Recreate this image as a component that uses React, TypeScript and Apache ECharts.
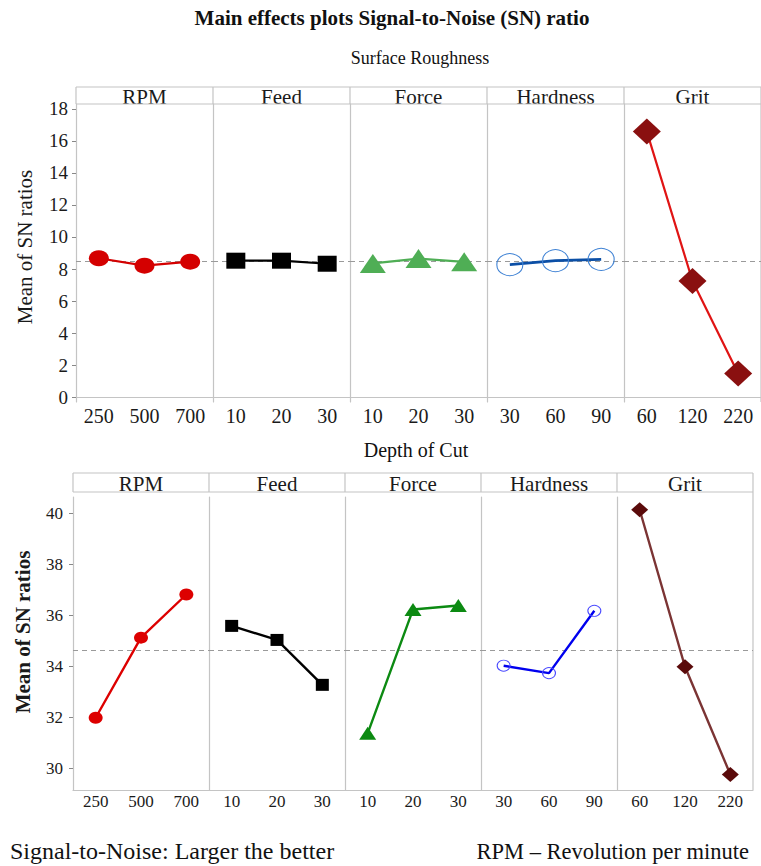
import React, { useEffect, useRef } from 'react';
import * as echarts from 'echarts';

// ---------- data ----------
const factors = ['RPM', 'Feed', 'Force', 'Hardness', 'Grit'];
const levelsRPM = ['250', '500', '700'];
const levelsFeed = ['10', '20', '30'];
const levelsForce = ['10', '20', '30'];
const levelsHardness = ['30', '60', '90'];
const levelsGrit = ['60', '120', '220'];

// Surface Roughness: mean of SN ratios
const roughRPM = [8.67, 8.21, 8.46];
const roughFeed = [8.52, 8.52, 8.33];
const roughForce = [8.35, 8.65, 8.45];
const roughHardness = [8.27, 8.52, 8.6];
const roughGrit = [16.58, 7.25, 1.48];

// Depth of Cut: mean of SN ratios
const depthRPM = [31.98, 35.12, 36.81];
const depthFeed = [35.58, 35.03, 33.27];
const depthForce = [31.37, 36.22, 36.38];
const depthHardness = [34.02, 33.73, 36.17];
const depthGrit = [40.13, 33.98, 29.76];

const roughTicks = [0, 2, 4, 6, 8, 10, 12, 14, 16, 18];
const depthTicks = [30, 32, 34, 36, 38, 40];

const levels = [levelsRPM, levelsFeed, levelsForce, levelsHardness, levelsGrit];
const roughData = [roughRPM, roughFeed, roughForce, roughHardness, roughGrit];
const depthData = [depthRPM, depthFeed, depthForce, depthHardness, depthGrit];

// ---------- styles / layout ----------
const FONT = '"Liberation Serif", "Times New Roman", serif';
const GRID_GRAY = '#c4c4c4';

const panels = [
  {
    data: roughData,
    ticks: roughTicks,
    yMin: -0.3,
    yMax: 18.3,
    left: 76,
    panelW: 137,
    top: 104,
    height: 298,
    headerTop: 87,
    headerBottom: 104,
    headerFont: 21,
    tickFont: 19,
    tickMargin: 8,
    xFont: 20,
    xMargin: 4,
    yName: 'Mean of SN ratios',
    yNameBold: false,
    yNameX: 25,
    yNameY: 247,
    yNameFont: 21,
    styles: [
      { symbol: 'circle', size: [20, 16], fill: '#d40000', border: '#d40000', line: '#d40000', lw: 2.2 },
      { symbol: 'rect', size: [19, 16], fill: '#000000', border: '#000000', line: '#000000', lw: 2.2 },
      { symbol: 'triangle', size: [26, 19], fill: '#4fae55', border: '#4fae55', line: '#4fae55', lw: 2.2 },
      { symbol: 'circle', size: [26, 22], fill: 'transparent', border: '#3f82d4', line: '#0b4fa6', lw: 2.8, bw: 1 },
      { symbol: 'diamond', size: [28, 26], fill: '#8a1010', border: '#8a1010', line: '#e01414', lw: 2.2 },
    ],
  },
  {
    data: depthData,
    ticks: depthTicks,
    yMin: 29.15,
    yMax: 40.63,
    left: 73,
    panelW: 136,
    top: 497,
    height: 293,
    headerTop: 473,
    headerBottom: 492,
    headerFont: 21,
    tickFont: 17,
    tickMargin: 10,
    xFont: 17,
    xMargin: 3,
    yName: 'Mean of SN ratios',
    yNameBold: true,
    yNameX: 22.5,
    yNameY: 632,
    yNameFont: 21,
    styles: [
      { symbol: 'circle', size: [14, 12], fill: '#dd0000', border: '#dd0000', line: '#dd0000', lw: 2.4 },
      { symbol: 'rect', size: [13, 12], fill: '#000000', border: '#000000', line: '#000000', lw: 2.4 },
      { symbol: 'triangle', size: [17, 13], fill: '#0c8a12', border: '#0c8a12', line: '#0c8a12', lw: 2.4 },
      { symbol: 'circle', size: [13, 11], fill: 'transparent', border: '#4a4aff', line: '#0000ee', lw: 2.4, bw: 1 },
      { symbol: 'diamond', size: [17, 15], fill: '#5a0a0a', border: '#5a0a0a', line: '#7b3434', lw: 2.4 },
    ],
  },
];

function grandMean(data: number[][]): number {
  let s = 0;
  let n = 0;
  data.forEach((arr) => arr.forEach((v) => { s += v; n += 1; }));
  return s / n;
}

function buildOption() {
  const grid: any[] = [];
  const xAxis: any[] = [];
  const yAxis: any[] = [];
  const series: any[] = [];
  const graphic: any[] = [];

  panels.forEach((p, pi) => {
    const mean = grandMean(p.data);
    factors.forEach((f, i) => {
      const idx = pi * 5 + i;
      const gl = p.left + p.panelW * i;
      grid.push({ left: gl, top: p.top, width: p.panelW, height: p.height });
      xAxis.push({
        type: 'category',
        gridIndex: idx,
        data: levels[i],
        boundaryGap: true,
        axisLine: { show: true, lineStyle: { color: GRID_GRAY, width: 1.2 } },
        axisTick: { show: false },
        axisLabel: { fontFamily: FONT, fontSize: p.xFont, color: '#1a1a1a', margin: p.xMargin },
        splitLine: { show: false },
      });
      const first = i === 0;
      yAxis.push({
        type: 'value',
        gridIndex: idx,
        min: p.yMin,
        max: p.yMax,
        axisLine: { show: true, lineStyle: { color: GRID_GRAY, width: 1.2 } },
        axisTick: first
          ? { show: true, length: 4, lineStyle: { color: '#888' }, customValues: p.ticks }
          : { show: false },
        axisLabel: first
          ? { show: true, fontFamily: FONT, fontSize: p.tickFont, color: '#1a1a1a', margin: p.tickMargin, customValues: p.ticks }
          : { show: false },
        splitLine: { show: false },
      });
      const st: any = p.styles[i];
      series.push({
        type: 'line',
        xAxisIndex: idx,
        yAxisIndex: idx,
        data: p.data[i],
        symbol: st.symbol,
        symbolSize: st.size,
        showAllSymbol: true,
        lineStyle: { color: st.line, width: st.lw },
        itemStyle: { color: st.fill, borderColor: st.border, borderWidth: st.bw ?? 0, opacity: 1 },
        z: 3,
        markLine: {
          silent: true,
          symbol: 'none',
          label: { show: false },
          lineStyle: { color: '#9a9a9a', type: [5, 4], width: 1 },
          data: [{ yAxis: mean }],
          z: 1,
        },
      });

      // header strip: vertical separators and labels
      graphic.push({
        type: 'line',
        shape: { x1: gl, y1: p.headerTop, x2: gl, y2: p.headerBottom },
        style: { stroke: GRID_GRAY, lineWidth: 1.2 },
      });
      graphic.push({
        type: 'text',
        x: gl + p.panelW / 2,
        y: (p.headerTop + p.headerBottom) / 2 + 1,
        style: {
          text: f,
          fontFamily: FONT,
          fontSize: p.headerFont,
          fill: '#1a1a1a',
          align: 'center',
          verticalAlign: 'middle',
        },
      });
    });
    const right = p.left + p.panelW * 5;
    graphic.push({
      type: 'line',
      shape: { x1: p.left, y1: p.headerTop, x2: right, y2: p.headerTop },
      style: { stroke: GRID_GRAY, lineWidth: 1.2 },
    });
    graphic.push({
      type: 'line',
      shape: { x1: p.left, y1: p.headerBottom, x2: right, y2: p.headerBottom },
      style: { stroke: GRID_GRAY, lineWidth: 1.2 },
    });
    graphic.push({
      type: 'line',
      shape: { x1: right, y1: p.headerTop, x2: right, y2: p.top + p.height },
      style: { stroke: GRID_GRAY, lineWidth: 1.2 },
    });
    // y-axis title
    graphic.push({
      type: 'text',
      x: p.yNameX,
      y: p.yNameY,
      rotation: Math.PI / 2,
      style: {
        text: p.yName,
        fontFamily: FONT,
        fontSize: p.yNameFont,
        fontWeight: p.yNameBold ? 'bold' : 'normal',
        fill: '#1a1a1a',
        align: 'center',
        verticalAlign: 'middle',
      },
    });
  });

  // titles and notes
  graphic.push({
    type: 'text', x: 392, y: 18,
    style: { text: 'Main effects plots Signal-to-Noise (SN) ratio', fontFamily: FONT, fontSize: 21, fontWeight: 'bold', fill: '#111', align: 'center', verticalAlign: 'middle' },
  });
  graphic.push({
    type: 'text', x: 420, y: 58,
    style: { text: 'Surface Roughness', fontFamily: FONT, fontSize: 18, fill: '#111', align: 'center', verticalAlign: 'middle' },
  });
  graphic.push({
    type: 'text', x: 416, y: 450,
    style: { text: 'Depth of Cut', fontFamily: FONT, fontSize: 20, fill: '#111', align: 'center', verticalAlign: 'middle' },
  });
  graphic.push({
    type: 'text', x: 10, y: 851,
    style: { text: 'Signal-to-Noise: Larger the better', fontFamily: FONT, fontSize: 24, fill: '#111', align: 'left', verticalAlign: 'middle' },
  });
  graphic.push({
    type: 'text', x: 749, y: 851,
    style: { text: 'RPM \u2013 Revolution per minute', fontFamily: FONT, fontSize: 22.5, fill: '#111', align: 'right', verticalAlign: 'middle' },
  });

  return {
    animation: false,
    backgroundColor: '#ffffff',
    grid,
    xAxis,
    yAxis,
    series,
    graphic,
  };
}

export default function App() {
  const ref = useRef<HTMLDivElement>(null);
  useEffect(() => {
    if (!ref.current) return;
    const chart = echarts.init(ref.current, undefined, { renderer: 'svg' });
    chart.setOption(buildOption() as any);
    return () => chart.dispose();
  }, []);
  return (
    <div
      ref={ref}
      style={{ position: 'absolute', left: 0, top: 0, width: 761, height: 866 }}
    />
  );
}
